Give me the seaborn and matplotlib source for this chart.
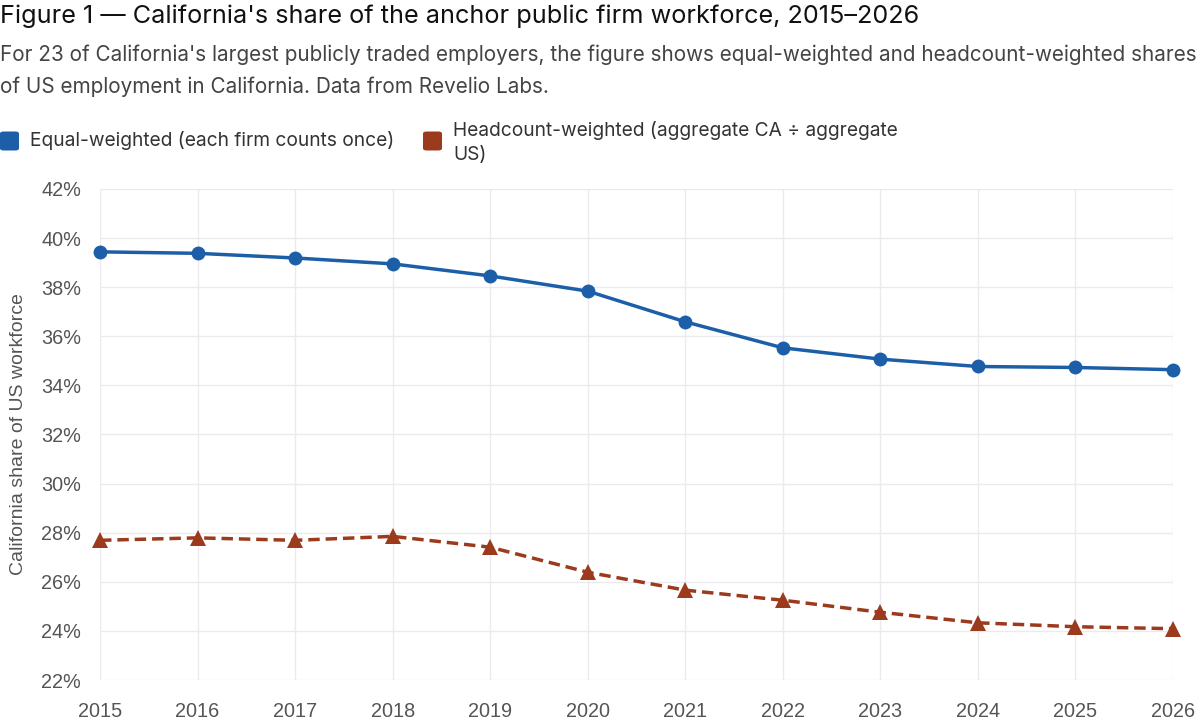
import matplotlib
matplotlib.use("Agg")
import matplotlib.pyplot as plt
import seaborn as sns
import pandas as pd
from matplotlib.patches import FancyBboxPatch
from matplotlib.ticker import FuncFormatter, MultipleLocator

years = [2015, 2016, 2017, 2018, 2019, 2020, 2021, 2022, 2023, 2024, 2025, 2026]
equal_weighted = [39.44, 39.38, 39.19, 38.95, 38.46, 37.84, 36.59, 35.53, 35.07, 34.77, 34.73, 34.64]
headcount_weighted = [27.69, 27.79, 27.69, 27.85, 27.41, 26.39, 25.66, 25.25, 24.76, 24.33, 24.17, 24.09]

series_names = ["Equal-weighted (each firm counts once)",
                "Headcount-weighted (aggregate CA ÷ aggregate\nUS)"]
colors = ["#1c5fa8", "#9c3a1d"]

df_eq = pd.DataFrame({"year": years, "share": equal_weighted})
df_hc = pd.DataFrame({"year": years, "share": headcount_weighted})

sns.set_theme(style="white")
plt.rcParams["font.family"] = ["Liberation Sans", "DejaVu Sans"]

W, H = 1200, 727
AX_L, AX_R, AX_T, AX_B = 100, 1173, 189, 680
fig = plt.figure(figsize=(12, 7.27), dpi=100)
ax = fig.add_axes([AX_L / W, 1 - AX_B / H, (AX_R - AX_L) / W, (AX_B - AX_T) / H])

sns.lineplot(data=df_eq, x="year", y="share", ax=ax, color=colors[0], linewidth=2.5,
             marker="o", markersize=10, markeredgewidth=0, clip_on=False)
sns.lineplot(data=df_hc, x="year", y="share", ax=ax, color=colors[1], linewidth=2.5,
             linestyle=(0, (3.3, 1.7)), marker="^", markersize=11, markeredgewidth=0,
             clip_on=False)

ax.set_xlim(2015, 2026)
ax.set_ylim(22, 42)
ax.set_xticks(years)
ax.yaxis.set_major_locator(MultipleLocator(2))
ax.yaxis.set_major_formatter(FuncFormatter(lambda v, p: f"{v:.0f}%"))
ax.grid(True, color="#ebebef", linewidth=1)
for s in ax.spines.values():
    s.set_visible(False)
ax.tick_params(axis="both", labelsize=14.3, colors="#555555", length=0)
ax.tick_params(axis="y", pad=13.5)
ax.tick_params(axis="x", pad=16)
ax.set_xlabel("")
ax.set_ylabel("California share of US workforce", fontsize=14, color="#555555")
ax.yaxis.set_label_coords((27 - AX_L) / (AX_R - AX_L), 0.5)

title_font = ["Inter", "DejaVu Sans"]
fig.text(0.0, 1 - 16.5 / H, "Figure 1 — California's share of the anchor public firm workforce, 2015–2026",
         fontsize=18.2, family=title_font, color="#111111", va="center", ha="left")
fig.text(0.0, 1 - 55 / H,
         "For 23 of California's largest publicly traded employers, the figure shows equal-weighted and headcount-weighted shares",
         fontsize=14.9, family=title_font, color="#444444", va="center", ha="left")
fig.text(0.0, 1 - 87 / H, "of US employment in California. Data from Revelio Labs.",
         fontsize=14.9, family=title_font, color="#444444", va="center", ha="left")

# legend
sq = 19
for x0, c in [(0, colors[0]), (423, colors[1])]:
    p = FancyBboxPatch((x0 / W, 1 - (141 + sq / 2) / H), sq / W, sq / H,
                       boxstyle="round,pad=0,rounding_size=0.003",
                       transform=fig.transFigure, facecolor=c, edgecolor="none")
    fig.patches.append(p)
fig.text(30 / W, 1 - 141 / H, series_names[0], fontsize=13.8, family=title_font,
         color="#333333", va="center", ha="left")
for i, line in enumerate(series_names[1].split("\n")):
    fig.text(453 / W, 1 - (130 + 25 * i) / H, line, fontsize=13.8, family=title_font,
             color="#333333", va="center", ha="left")

fig.savefig("out.png", dpi=100)
